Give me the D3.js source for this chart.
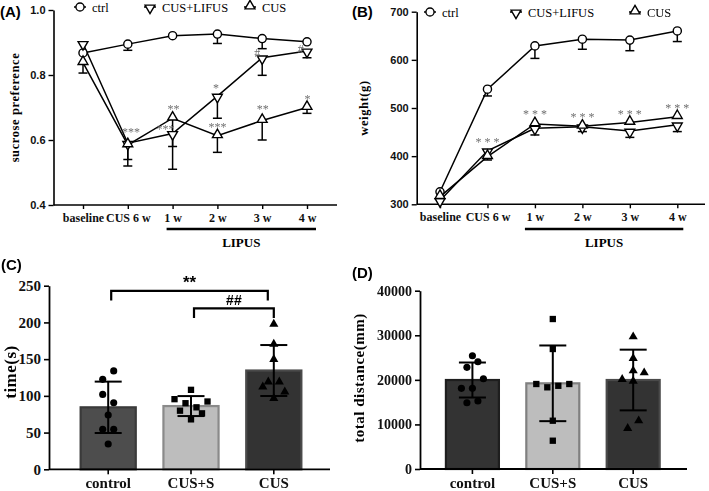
<!DOCTYPE html>
<html><head><meta charset="utf-8">
<script src="https://cdn.jsdelivr.net/npm/d3@7"></script>
<style>
body{margin:0;background:#fff;}
svg{display:block;}
.anno{opacity:0.99;will-change:transform;}
</style></head>
<body>
<svg id="chart" width="709" height="491"></svg>
<script>
// ---------------- DATA ----------------
const weeks = ["baseline", "CUS 6 w", "1 w", "2 w", "3 w", "4 w"];
const seriesNames = ["ctrl", "CUS+LIFUS", "CUS"];

// (A) sucrose preference
const spCtrl     = [0.868, 0.895, 0.921, 0.926, 0.912, 0.902];
const spCtrlErr  = [0.000, 0.019, 0.000, 0.029, 0.031, 0.000];
const spLifus    = [0.897, 0.590, 0.620, 0.735, 0.853, 0.874];
const spLifusErr = [0.000, 0.070, 0.110, 0.068, 0.054, 0.021];
const spCus      = [0.838, 0.585, 0.667, 0.613, 0.660, 0.700];
const spCusErr   = [0.032, 0.045, 0.087, 0.051, 0.060, 0.018];
const spTicks    = [0.4, 0.6, 0.8, 1.0];
// annotations: [week index, y value, text, horizontal shift in week units]
const spMarks = [
  [1, 0.625, "***", 0.07], [2, 0.633, "***", -0.16], [2, 0.695, "**", 0.02],
  [3, 0.759, "*", -0.03], [3, 0.641, "***", 0.0], [4, 0.867, "#", -0.11],
  [4, 0.695, "**", 0.01], [5, 0.879, "#", -0.14], [5, 0.726, "*", 0.01]
];

// (B) weight
const wCtrl     = [326, 539, 629, 643, 641, 660];
const wCtrlErr  = [0, 14, 26, 21, 22, 22];
const wLifus    = [308, 411, 458, 461, 452, 465];
const wLifusErr = [0, 0, 14, 10, 13, 14];
const wCus      = [316, 399, 467, 462, 470, 482];
const wCusErr   = [0, 7, 0, 0, 0, 0];
const wTicks    = [300, 400, 500, 600, 700];
const wMarks = [
  [1, 430, "* * *", 0], [2, 487, "* * *", 0], [3, 482, "* * *", 0],
  [4, 487, "* * *", 0], [5, 501, "* * *", 0]
];

// (C) time
const groups = ["control", "CUS+S", "CUS"];
const timeMean = [84.4, 86.1, 134.5];
const timeSD   = [35.0, 13.6, 34.7];
const timeCtrl = [134, 122.5, 102, 90.6, 73.9, 54.4, 54.4, 34.4];
const timeCtrlSlot = [1, -1, -1, 1, 0, -1, 1, 0];
const timeCusS = [108.2, 95.5, 92.3, 90, 84.4, 79.8, 76.2, 68];
const timeCusSSlot = [0, -3, 3, -1, 1, -2, 2, 0];
const timeCus  = [197.7, 170.5, 149.7, 119.2, 119.2, 112.4, 105.6, 96.6];
const timeCusSlot = [0, 0, 0, -1, 1, -2, 2, 0];
const timeTicks = [0, 50, 100, 150, 200, 250];
// brackets: [from group, to group, y value, leg length value, label]
const timeBrackets = [[0, 2, 243, 13, "**"], [1, 2, 219, 13, "##"]];

// (D) total distance
const distMean = [19964, 19222, 19964];
const distSD   = [3925, 8490, 6808];
const distCtrl = [25415, 24068, 22812, 20256, 18101, 18101, 15253, 14872];
const distCtrlSlot = [0, 1, -1, 2, -2, 0, 1, -1];
const distCusS = [33647, 26918, 19067, 18326, 18670, 19067, 10834, 6348];
const distCusSSlot = [0, 0, -3, -1, 1, 3, 0, 0];
const distCus  = [29677, 24832, 22050, 21601, 20121, 19740, 10834, 9130];
const distCusSlot = [0, 0, 0, 2, -2, 0, 1, -1];
const distTicks = [0, 10000, 20000, 30000, 40000];

// ---------------- DRAW ----------------
const svg = d3.select("#chart");
const SERIF = '"Liberation Serif","Times New Roman",serif';
const SANS = '"Liberation Sans",Arial,sans-serif';

function markerPath(kind) {
  if (kind === 0) return d3.symbol(d3.symbolCircle, 52)();
  return d3.symbol(d3.symbolTriangle, 42)();
}
function drawMarker(g, kind, x, y) {
  const p = g.append("path").attr("d", markerPath(kind))
    .attr("fill", "#fff").attr("stroke", "#000").attr("stroke-width", 1.4);
  if (kind === 1) p.attr("transform", `translate(${x},${y + 1}) rotate(180)`);
  else if (kind === 2) p.attr("transform", `translate(${x},${y - 1})`);
  else p.attr("transform", `translate(${x},${y})`);
}

function linePanel(o) {
  const g = svg.append("g");
  const x = d3.scalePoint().domain(weeks).range(o.xr);
  const y = d3.scaleLinear().domain(o.yd).range(o.yr);
  // y axis
  const ya = g.append("g").attr("transform", `translate(${o.ax},0)`)
    .call(d3.axisLeft(y).tickValues(o.ticks).tickFormat(o.fmt).tickSize(5).tickSizeOuter(0));
  ya.select(".domain").attr("stroke-width", 1.6);
  ya.selectAll(".tick line").attr("stroke-width", 1.4);
  ya.selectAll("text").attr("font-family", SANS).attr("font-weight", "bold")
    .attr("font-size", 11).attr("fill", "#111");
  // x axis
  const xa = g.append("g").attr("transform", `translate(0,${o.yr[0]})`)
    .call(d3.axisBottom(x).tickSize(4).tickPadding(4));
  xa.select(".domain").remove();
  xa.selectAll(".tick line").attr("stroke-width", 1.4);
  xa.selectAll("text").attr("font-family", SERIF).attr("font-weight", "bold")
    .attr("font-size", 12).attr("fill", "#111");
  g.append("line").attr("x1", o.ax).attr("x2", o.xend).attr("y1", o.yr[0]).attr("y2", o.yr[0])
    .attr("stroke", "#000").attr("stroke-width", 1.6);
  // LIPUS bar
  const lx1 = x(weeks[2]) - o.lipusPad[0], lx2 = x(weeks[5]) + o.lipusPad[1];
  g.append("line").attr("x1", lx1).attr("x2", lx2).attr("y1", 229).attr("y2", 229)
    .attr("stroke", "#000").attr("stroke-width", 2.4);
  g.append("text").attr("x", (lx1 + lx2) / 2).attr("y", 247).attr("text-anchor", "middle")
    .attr("font-family", SERIF).attr("font-weight", "bold").attr("font-size", 13).text("LIPUS");
  // y label
  g.append("text").attr("transform", `translate(${o.ylx},${(o.yr[0] + o.yr[1]) / 2}) rotate(-90)`)
    .attr("text-anchor", "middle").attr("font-family", SERIF).attr("font-weight", "bold")
    .attr("font-size", 12.5).attr("letter-spacing", 0.6).text(o.ylabel);
  // panel label
  g.append("text").attr("x", o.px).attr("y", 17).attr("font-family", SANS)
    .attr("font-weight", "bold").attr("font-size", 15).text(o.panel);
  // series
  const line = d3.line().x((d, i) => x(weeks[i])).y(d => y(d));
  o.series.forEach(s => {
    g.append("path").datum(s.v).attr("d", line).attr("fill", "none")
      .attr("stroke", "#000").attr("stroke-width", 1.5);
  });
  o.series.forEach(s => {
    s.v.forEach((v, i) => {
      if (s.e[i] <= 0) return;
      const cx = x(weeks[i]);
      g.append("line").attr("x1", cx).attr("x2", cx).attr("y1", y(v)).attr("y2", y(v - s.e[i]))
        .attr("stroke", "#000").attr("stroke-width", 1.5);
      g.append("line").attr("x1", cx - 4.5).attr("x2", cx + 4.5).attr("y1", y(v - s.e[i])).attr("y2", y(v - s.e[i]))
        .attr("stroke", "#000").attr("stroke-width", 1.5);
    });
  });
  o.series.forEach(s => {
    s.v.forEach((v, i) => drawMarker(g, s.k, x(weeks[i]), y(v)));
  });
  // annotations
  const step = x.step();
  const ag = g.append("g").attr("class", "anno");
  o.marks.forEach(m => {
    ag.append("text").attr("x", x(weeks[m[0]]) + m[3] * step).attr("y", y(m[1]) + 4)
      .attr("text-anchor", "middle").attr("font-family", SERIF).attr("font-size", o.markSize)
      .attr("fill", "#6e6e6e").text(m[2]);
  });
  // legend
  seriesNames.forEach((n, i) => {
    const lx = o.legX[i];
    g.append("line").attr("x1", lx - 6).attr("x2", lx + 6).attr("y1", o.legY).attr("y2", o.legY)
      .attr("stroke", "#000").attr("stroke-width", 1.5);
    drawMarker(g, i, lx, o.legY);
    g.append("text").attr("x", lx + 12).attr("y", o.legY + 4.5).attr("font-family", SERIF)
      .attr("font-size", 12.5).text(n);
  });
}

linePanel({
  panel: "(A)", px: 0, xr: [83, 307], yd: [0.4, 1.0], yr: [205, 10], ax: 53.5, xend: 337,
  ticks: spTicks, fmt: d3.format(".1f"), ylabel: "sucrose preference", ylx: 19,
  lipusPad: [6, 9], markSize: 12,
  series: [{v: spCtrl, e: spCtrlErr, k: 0}, {v: spLifus, e: spLifusErr, k: 1}, {v: spCus, e: spCusErr, k: 2}],
  marks: spMarks, legX: [80, 150, 250], legY: 7
});
linePanel({
  panel: "(B)", px: 352, xr: [440, 677.3], yd: [300, 700], yr: [204.3, 11.7], ax: 416.7, xend: 705,
  ticks: wTicks, fmt: d3.format("d"), ylabel: "weight(g)", ylx: 368,
  lipusPad: [10, 6], markSize: 12,
  series: [{v: wCtrl, e: wCtrlErr, k: 0}, {v: wLifus, e: wLifusErr, k: 1}, {v: wCus, e: wCusErr, k: 2}],
  marks: wMarks, legX: [430, 516, 635], legY: 12
});

function barPanel(o) {
  const g = svg.append("g");
  const x = d3.scaleBand().domain(groups).range(o.xr).paddingInner(o.pi).paddingOuter(o.po);
  const y = d3.scaleLinear().domain(o.yd).range(o.yr);
  // bars
  groups.forEach((grp, i) => {
    g.append("rect").attr("x", x(grp) + 1).attr("width", x.bandwidth() - 2)
      .attr("y", y(o.mean[i])).attr("height", y(0) - y(o.mean[i]))
      .attr("fill", o.fill[i]).attr("stroke", o.stroke[i]).attr("stroke-width", 2.2);
  });
  // y axis
  const ya = g.append("g").attr("transform", `translate(${o.xr[0]},0)`)
    .call(d3.axisLeft(y).tickValues(o.ticks).tickFormat(d3.format("d")).tickSize(5).tickSizeOuter(0));
  ya.select(".domain").attr("stroke-width", 1.8);
  ya.selectAll(".tick line").attr("stroke-width", 1.6);
  ya.selectAll("text").attr("font-family", SERIF).attr("font-weight", "bold")
    .attr("font-size", o.tickSize).attr("fill", "#111");
  // x axis
  const xa = g.append("g").attr("transform", `translate(0,${o.yr[0]})`)
    .call(d3.axisBottom(x).tickSize(5).tickPadding(3));
  xa.select(".domain").remove();
  xa.selectAll(".tick line").attr("stroke-width", 1.6);
  xa.selectAll("text").attr("font-family", SERIF).attr("font-weight", "bold")
    .attr("font-size", 15).attr("fill", "#111");
  g.append("line").attr("x1", o.xr[0]).attr("x2", o.xend).attr("y1", o.yr[0]).attr("y2", o.yr[0])
    .attr("stroke", "#000").attr("stroke-width", 1.8);
  // points
  const unit = 5.5;
  o.pts.forEach((arr, i) => {
    const cx = x(groups[i]) + x.bandwidth() / 2;
    arr.forEach((v, j) => {
      const px = cx + o.slots[i][j] * unit, py = y(v);
      let d;
      if (i === 0) d = d3.symbol(d3.symbolCircle, 40)();
      else if (i === 1) d = d3.symbol(d3.symbolSquare, 40)();
      else d = d3.symbol(d3.symbolTriangle, 36)();
      g.append("path").attr("d", d).attr("transform", `translate(${px},${py})`).attr("fill", "#000");
    });
  });
  // error bars
  groups.forEach((grp, i) => {
    const cx = x(grp) + x.bandwidth() / 2;
    const y1 = y(o.mean[i] + o.sd[i]), y2 = y(o.mean[i] - o.sd[i]);
    g.append("line").attr("x1", cx).attr("x2", cx).attr("y1", y1).attr("y2", y2)
      .attr("stroke", "#000").attr("stroke-width", 2);
    [y1, y2].forEach(yy => g.append("line").attr("x1", cx - 13.5).attr("x2", cx + 13.5)
      .attr("y1", yy).attr("y2", yy).attr("stroke", "#000").attr("stroke-width", 2));
  });
  // brackets
  (o.brackets || []).forEach(b => {
    const xa1 = x(groups[b[0]]) + x.bandwidth() / 2 + 3;
    const xa2 = x(groups[b[1]]) + x.bandwidth() / 2 - (b[0] === 0 ? 6 : 0);
    const yb = y(b[2]), yl = y(b[2] - b[3]);
    g.append("path").attr("d", `M${xa1},${yl}V${yb}H${xa2}V${yl}`).attr("fill", "none")
      .attr("stroke", "#000").attr("stroke-width", 2.2);
    g.append("text").attr("x", (xa1 + xa2) / 2).attr("y", yb - 3).attr("text-anchor", "middle")
      .attr("font-family", SANS).attr("font-weight", "bold").attr("font-size", b[4] === "**" ? 17 : 14)
      .text(b[4]);
  });
  // y label
  g.append("text").attr("transform", `translate(${o.ylx},${o.yly}) rotate(-90)`)
    .attr("text-anchor", "middle").attr("font-family", SERIF).attr("font-weight", "bold")
    .attr("font-size", o.ylSize).attr("letter-spacing", 0.5).text(o.ylabel);
  g.append("text").attr("x", o.px).attr("y", o.py).attr("font-family", SANS)
    .attr("font-weight", "bold").attr("font-size", 15).text(o.panel);
}

barPanel({
  panel: "(C)", px: 1, py: 270, xr: [49, 333], pi: 0.31, po: 0.37, xend: 330,
  yd: [0, 250], yr: [469.3, 285.7], ticks: timeTicks, tickSize: 15,
  mean: timeMean, sd: timeSD, fill: ["#4d4d4d", "#bdbdbd", "#333333"],
  stroke: ["#3a3a3a", "#8a8a8a", "#4a4a4a"],
  pts: [timeCtrl, timeCusS, timeCus], slots: [timeCtrlSlot, timeCusSSlot, timeCusSlot],
  brackets: timeBrackets, ylabel: "time(s)", ylx: 16, yly: 372, ylSize: 17
});
barPanel({
  panel: "(D)", px: 352, py: 278, xr: [420, 685.6], pi: 0.316, po: 0.31, xend: 687,
  yd: [0, 40000], yr: [469, 290.7], ticks: distTicks, tickSize: 14,
  mean: distMean, sd: distSD, fill: ["#333333", "#bdbdbd", "#333333"],
  stroke: ["#1e1e1e", "#808080", "#4a4a4a"],
  pts: [distCtrl, distCusS, distCus], slots: [distCtrlSlot, distCusSSlot, distCusSlot],
  ylabel: "total distance(mm)", ylx: 364, yly: 378, ylSize: 15
});
</script>
</body></html>
